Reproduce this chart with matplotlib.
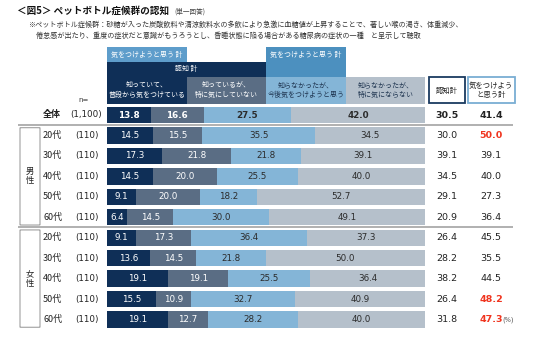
import matplotlib
matplotlib.use("Agg")
import matplotlib.pyplot as plt
from matplotlib.patches import Rectangle, FancyBboxPatch
from matplotlib.transforms import blended_transform_factory
import numpy as np

plt.rcParams['font.family'] = ['Noto Sans CJK JP', 'DejaVu Sans']

# ---------------- data ----------------
row_labels = ["全体", "20代", "30代", "40代", "50代", "60代", "20代", "30代", "40代", "50代", "60代"]
n_labels = ["(1,100)", "(110)", "(110)", "(110)", "(110)", "(110)", "(110)", "(110)", "(110)", "(110)", "(110)"]
categories = ["知っていて、\n普段から気をつけている", "知っているが、\n特に気にしていない",
              "知らなかったが、\n今後気をつけようと思う", "知らなかったが、\n特に気にならない"]
know_careful = [13.8, 14.5, 17.3, 14.5, 9.1, 6.4, 9.1, 13.6, 19.1, 15.5, 19.1]
know_notcare = [16.6, 15.5, 21.8, 20.0, 20.0, 14.5, 17.3, 14.5, 19.1, 10.9, 12.7]
unknown_careful = [27.5, 35.5, 21.8, 25.5, 18.2, 30.0, 36.4, 21.8, 25.5, 32.7, 28.2]
unknown_notcare = [42.0, 34.5, 39.1, 40.0, 52.7, 49.1, 37.3, 50.0, 36.4, 40.9, 40.0]
ninchi_total = [30.5, 30.0, 39.1, 34.5, 29.1, 20.9, 26.4, 28.2, 38.2, 26.4, 31.8]
careful_total = [41.4, 50.0, 39.1, 40.0, 27.3, 36.4, 45.5, 35.5, 44.5, 48.2, 47.3]
highlight_rows = [1, 9, 10]

series = [know_careful, know_notcare, unknown_careful, unknown_notcare]
colors = ["#0f2f57", "#5a6d84", "#84b5d7", "#b5c0cb"]
text_colors = ["white", "white", "#2b2b2b", "#2b2b2b"]

W, H = 536, 339
fig = plt.figure(figsize=(W / 100, H / 100), dpi=100)

def fx(px):
    return px / W

def fy(py):
    return 1 - py / H

# bar axes: rows centred at 115 + 20.45*i px
step = 20.45
y_top = 115 - step / 2
y_bot = 115 + step * 10 + step / 2
x0, x1 = 107, 425
ax = fig.add_axes([fx(x0), fy(y_bot), fx(x1) - fx(x0), (y_bot - y_top) / H])
ax.set_xlim(0, 100)
ax.set_ylim(10.5, -0.5)
ax.axis('off')

ypos = np.arange(len(row_labels))
left = np.zeros(len(row_labels))
for s, vals in enumerate(series):
    vals = np.array(vals)
    ax.barh(ypos, vals, left=left, height=0.8, color=colors[s], edgecolor='none')
    for i, v in enumerate(vals):
        ax.text(left[i] + v / 2, ypos[i], f"{v:.1f}", ha='center', va='center',
                fontsize=6.3, color=text_colors[s],
                fontweight='bold' if i == 0 else 'normal', family='DejaVu Sans')
    left += vals

tr = blended_transform_factory(fig.transFigure, ax.transData)

# row labels, n, totals
for i in range(len(row_labels)):
    ax.text(fx(43), i, row_labels[i], transform=tr, ha='left', va='center',
            fontsize=6.5, color='#222', fontweight='bold' if i == 0 else 'normal')
    ax.text(fx(86.5), i, n_labels[i], transform=tr, ha='center', va='center',
            fontsize=6.3, color='#222', family='DejaVu Sans')
    ax.text(fx(447), i, f"{ninchi_total[i]:.1f}", transform=tr, ha='center', va='center',
            fontsize=6.8, color='#222', fontweight='bold' if i == 0 else 'normal',
            family='DejaVu Sans')
    red = i in highlight_rows
    ax.text(fx(491), i, f"{careful_total[i]:.1f}", transform=tr, ha='center', va='center',
            fontsize=6.8, color='#f0341e' if red else '#222',
            fontweight='bold' if (i == 0 or red) else 'normal', family='DejaVu Sans')
ax.text(fx(502), 10, "(%)", transform=tr, ha='left', va='center', fontsize=4.8, color='#555',
        family='DejaVu Sans')

# separators
for yy in [0.5, 5.5]:
    ax.plot([fx(18), fx(513)], [yy, yy], transform=tr, color='#b0b0b0', lw=1.4,
            clip_on=False, solid_capstyle='butt')

# gender brackets
for (ya, yb, lab) in [(0.62, 5.38, "男\n性"), (5.62, 10.38, "女\n性")]:
    p = FancyBboxPatch((fx(20), ya), fx(40) - fx(20), yb - ya,
                       boxstyle="round,pad=0,rounding_size=0.004",
                       transform=tr, facecolor='white', edgecolor='#a0a0a0', lw=0.8,
                       clip_on=False, mutation_aspect=1)
    ax.add_patch(p)
    ax.text(fx(30), (ya + yb) / 2, lab, transform=tr, ha='center', va='center',
            fontsize=6, color='#222', linespacing=1.0)

# ---------------- headers ----------------
def frect(xa, ya, xb, yb, fc, ec='none', lw=0):
    fig.patches.append(Rectangle((fx(xa), fy(yb)), fx(xb) - fx(xa), (yb - ya) / H,
                                 transform=fig.transFigure, facecolor=fc, edgecolor=ec,
                                 lw=lw))

frect(107, 47, 187, 62, "#5e9dcb")
fig.text(fx(147), fy(54.5), "気をつけようと思う 計", ha='center', va='center', fontsize=5, color='white')
frect(107, 62, 266, 77, "#0f2f57")
fig.text(fx(186.5), fy(69.5), "認知 計", ha='center', va='center', fontsize=5, color='white')
frect(266, 47, 346, 77, "#4c90bf")
fig.text(fx(306), fy(54.5), "気をつけようと思う 計", ha='center', va='center', fontsize=5, color='white')

hx = [107, 187, 266, 346, 425]
for k in range(4):
    frect(hx[k], 77, hx[k + 1], 104, colors[k])
    fig.text(fx((hx[k] + hx[k + 1]) / 2), fy(90.5), categories[k], ha='center', va='center',
             fontsize=5, color='white' if k < 2 else '#1f3550', linespacing=1.25)

frect(429, 77.5, 465, 103, "white", ec="#1a3a60", lw=1.3)
fig.text(fx(447), fy(90.5), "認知計", ha='center', va='center', fontsize=5.3, color='#222')
frect(467.5, 77.5, 515, 103, "white", ec="#7aaed3", lw=1.3)
fig.text(fx(491), fy(90.5), "気をつけよう\nと思う計", ha='center', va='center', fontsize=5.3,
         color='#222', linespacing=1.2)

fig.text(fx(84), fy(100), "n=", ha='center', va='center', fontsize=5, color='#333',
         family='DejaVu Sans')

# title and note
title = fig.text(fx(17), fy(11), "＜図5＞ ペットボトル症候群の認知", ha='left', va='center',
                 fontsize=6.9, fontweight='bold', color='#111')
renderer = fig.canvas.get_renderer()
bb = title.get_window_extent(renderer=renderer)
fig.text(bb.x1 / fig.bbox.width + fx(5), fy(11.5), "(単一回答)", ha='left', va='center',
         fontsize=4.8, color='#444')
fig.text(fx(28), fy(25), "※ペットボトル症候群：砂糖が入った炭酸飲料や清涼飲料水の多飲により急激に血糖値が上昇することで、著しい喉の渇き、体重減少、",
         ha='left', va='center', fontsize=5.1, color='#333')
fig.text(fx(36), fy(35.5), "倦怠感が出たり、重度の症状だと意識がもうろうとし、昏睡状態に陥る場合がある糖尿病の症状の一種　と呈示して聴取",
         ha='left', va='center', fontsize=5.1, color='#333')

fig.savefig("out.png", dpi=100)
